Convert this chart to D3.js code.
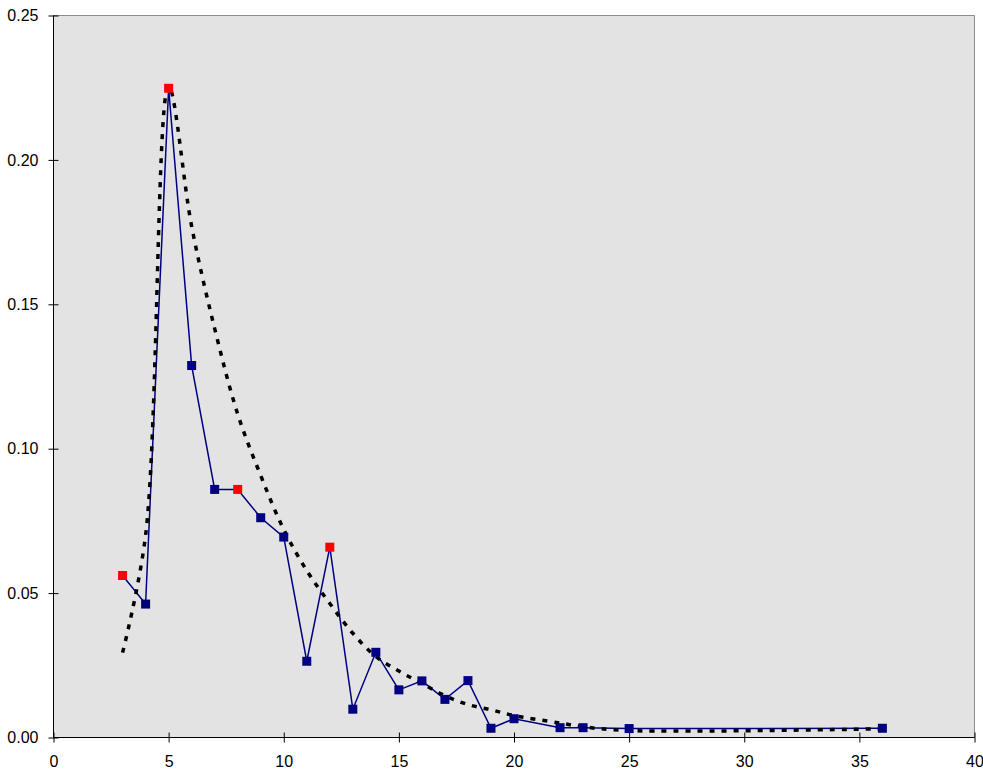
<!DOCTYPE html>
<html>
<head>
<meta charset="utf-8">
<script src="https://cdn.jsdelivr.net/npm/d3@7"></script>
<style>
  html, body { margin: 0; padding: 0; background: #ffffff; }
  svg { display: block; }
  text { font-family: "Liberation Sans", Arial, sans-serif; }
</style>
</head>
<body>
<div id="chart"></div>
<script>
// ---- data ----
const xValues = [3, 4, 5, 6, 7, 8, 9, 10, 11, 12, 13, 14, 15, 16, 17, 18, 19, 20, 22, 23, 25, 36];
const observed = [0.0561, 0.0462, 0.2248, 0.1288, 0.0859, 0.0859, 0.0761, 0.0694, 0.0264, 0.0659, 0.0098, 0.0295, 0.0165, 0.0196, 0.0132, 0.0197, 0.0032, 0.0065, 0.0034, 0.0034, 0.0031, 0.0032];
const highlighted = [true, false, true, false, false, true, false, false, false, true, false, false, false, false, false, false, false, false, false, false, false, false];
const fitted = [0.0294, 0.070, 0.2255, 0.177, 0.1416, 0.112, 0.0907, 0.072, 0.0578, 0.0464, 0.0361, 0.028, 0.023, 0.0187, 0.0145, 0.0114, 0.0096, 0.0076, 0.005, 0.0037, 0.0024, 0.003];
const xTicks = [0, 5, 10, 15, 20, 25, 30, 35, 40];
const yTicks = [0, 0.05, 0.10, 0.15, 0.20, 0.25];

// ---- layout ----
const W = 983, H = 772;
const pLeft = 53.5, pRight = 974.5, pTop = 15.5, pBottom = 737.5;

const svg = d3.select("#chart").append("svg").attr("width", W).attr("height", H);

const x = d3.scaleLinear().domain([0, 40]).range([pLeft, pRight]);
const y = d3.scaleLinear().domain([0, 0.25]).range([pBottom, pTop]);

// plot background
svg.append("rect")
  .attr("x", pLeft).attr("y", pTop)
  .attr("width", pRight - pLeft).attr("height", pBottom - pTop)
  .attr("fill", "#e3e3e3");

// grey frame top / right
svg.append("path")
  .attr("d", `M${pLeft},${pTop}H${pRight}V${pBottom}`)
  .attr("fill", "none").attr("stroke", "#8c8c8c").attr("stroke-width", 1);

// axes
const xAxis = d3.axisBottom(x).tickValues(xTicks).tickSize(5).tickPadding(13).tickFormat(d3.format("d"));
const gx = svg.append("g").attr("transform", `translate(0,${pBottom})`).call(xAxis);
gx.select(".domain").remove();
gx.selectAll(".tick line").attr("y1", -5).attr("y2", 5).attr("stroke", "#000");
gx.selectAll("text").attr("font-size", 16).attr("fill", "#000");

const yAxis = d3.axisLeft(y).tickValues(yTicks).tickSize(5).tickPadding(10).tickFormat(d3.format(".2f"));
const gy = svg.append("g").attr("transform", `translate(${pLeft},0)`).call(yAxis);
gy.select(".domain").remove();
gy.selectAll(".tick line").attr("x1", -5).attr("x2", 5).attr("stroke", "#000");
gy.selectAll("text").attr("font-size", 16).attr("fill", "#000");

svg.append("line").attr("x1", pLeft).attr("x2", pLeft).attr("y1", pTop).attr("y2", pBottom).attr("stroke", "#000");
svg.append("line").attr("x1", pLeft).attr("x2", pRight).attr("y1", pBottom).attr("y2", pBottom).attr("stroke", "#000");

const obsData = xValues.map((v, i) => ({ x: v, y: observed[i], hl: highlighted[i] }));
const fitData = xValues.map((v, i) => ({ x: v, y: fitted[i] }));

// observed line
svg.append("path")
  .datum(obsData)
  .attr("fill", "none")
  .attr("stroke", "#000080")
  .attr("stroke-width", 1.5)
  .attr("d", d3.line().x(d => x(d.x)).y(d => y(d.y)));

// fitted smooth dotted curve
svg.append("path")
  .datum(fitData)
  .attr("fill", "none")
  .attr("stroke", "#000")
  .attr("stroke-width", 3.5)
  .attr("stroke-dasharray", "5,7")
  .attr("d", d3.line().x(d => x(d.x)).y(d => y(d.y)).curve(d3.curveCatmullRom.alpha(0.5)));

// markers
const ms = 9;
svg.append("g").selectAll("rect")
  .data(obsData)
  .join("rect")
  .attr("x", d => x(d.x) - ms / 2)
  .attr("y", d => y(d.y) - ms / 2)
  .attr("width", ms).attr("height", ms)
  .attr("fill", d => d.hl ? "#ff0000" : "#000080");
</script>
</body>
</html>
